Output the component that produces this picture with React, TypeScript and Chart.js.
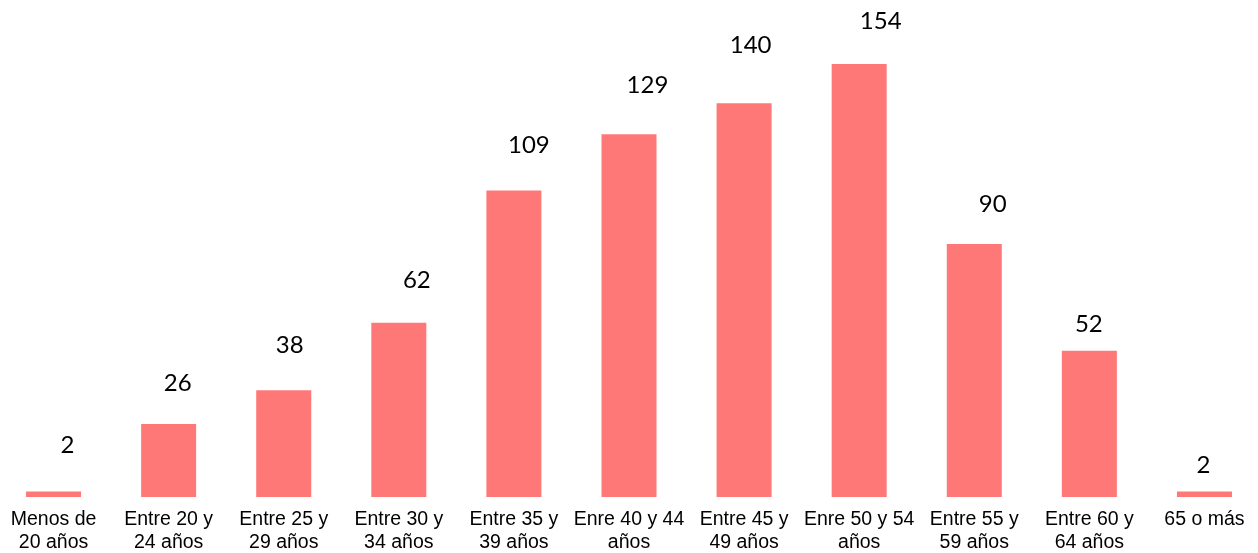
import React, { useEffect, useRef } from "react";
import { Chart, registerables } from "chart.js";

Chart.register(...registerables);

const categories: string[][] = [
  ["Menos de", "20 años"],
  ["Entre 20 y", "24 años"],
  ["Entre 25 y", "29 años"],
  ["Entre 30 y", "34 años"],
  ["Entre 35 y", "39 años"],
  ["Enre 40 y 44", "años"],
  ["Entre 45 y", "49 años"],
  ["Enre 50 y 54", "años"],
  ["Entre 55 y", "59 años"],
  ["Entre 60 y", "64 años"],
  ["65 o más"],
];

const values: number[] = [2, 26, 38, 62, 109, 129, 140, 154, 90, 52, 2];

// manual nudges of the value labels relative to each bar's top-centre
const labelNudgeX: number[] = [14, 9, 6, 18, 15, 18.5, 6.5, 21.5, 18.5, -0.5, -1];
const labelNudgeY: number[] = [46.5, 41, 46, 43.5, 45.7, 50, 58.5, 43.5, 40.5, 27.5, 26.5];

const BAR_COLOR = "#FF7878";

const valueLabelPlugin = {
  id: "valueLabels",
  afterDraw(chart: any) {
    const ctx = chart.ctx;
    const meta = chart.getDatasetMeta(0);
    ctx.save();
    ctx.font = "24px Lato";
    ctx.fillStyle = "#000000";
    ctx.textAlign = "center";
    ctx.textBaseline = "alphabetic";
    meta.data.forEach((bar: any, i: number) => {
      const cx = bar.x + labelNudgeX[i];
      const cy = bar.y - labelNudgeY[i];
      ctx.fillText(String(values[i]), cx, cy + 8.5);
    });
    ctx.restore();
  },
};

export default function App() {
  const ref = useRef<HTMLCanvasElement | null>(null);

  useEffect(() => {
    if (!ref.current) return;
    const chart = new Chart(ref.current, {
      type: "bar",
      data: {
        labels: categories,
        datasets: [
          {
            data: values,
            backgroundColor: BAR_COLOR,
            borderWidth: 0,
            barPercentage: 0.478,
            categoryPercentage: 1,
          },
        ],
      },
      options: {
        responsive: false,
        animation: false,
        layout: { padding: { top: 47, bottom: 0, left: 0, right: 0 } },
        plugins: {
          legend: { display: false },
          tooltip: { enabled: false },
        },
        scales: {
          x: {
            grid: { display: false, drawTicks: false },
            border: { display: false },
            ticks: {
              color: "#000000",
              font: { family: "'Liberation Sans', Arial, sans-serif", size: 19.5, lineHeight: 1.17 },
              maxRotation: 0,
              minRotation: 0,
              autoSkip: false,
              padding: 11,
            },
            afterFit(scale: any) {
              scale.height = 56;
            },
          },
          y: {
            display: false,
            min: 0,
            max: 160,
          },
        },
      },
      plugins: [valueLabelPlugin],
    });
    return () => chart.destroy();
  }, []);

  return (
    <div style={{ position: "fixed", left: -4, top: 0, width: 1266, height: 553, background: "#fff" }}>
      <canvas ref={ref} width={1266} height={553} style={{ display: "block" }} />
    </div>
  );
}
